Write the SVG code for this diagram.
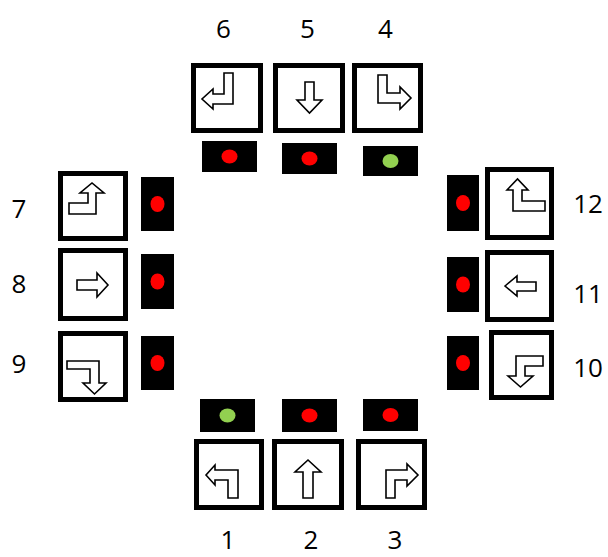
<svg xmlns="http://www.w3.org/2000/svg" width="608" height="557" viewBox="0 0 608 557">
<style>
.box{fill:#fff;stroke:#000;stroke-width:5}
.arr{fill:#fff;stroke:#000;stroke-width:1.6;stroke-linejoin:miter}
.sig{fill:#000}
.red{fill:#ff0000}
.grn{fill:#92d050}
.lbl{font-family:"Open Sans","Liberation Sans",sans-serif;font-size:26px;fill:#000;text-anchor:middle}
</style>
<rect width="608" height="557" fill="#fff"/>
<g id="connectors"></g>
<g id="lane6"><rect class="box" x="193.5" y="65.5" width="67" height="65"/><polygon class="arr" points="224,73 233,73 233,104 213,104 213,109 202,99 213,89 213,94 224,94"/><rect class="sig" x="202" y="141" width="55" height="31"/><ellipse class="red" cx="229.5" cy="156.5" rx="8" ry="7"/><text class="lbl" x="223.5" y="38">6</text></g>
<g id="lane5"><rect class="box" x="275.5" y="65.5" width="67" height="65"/><polygon class="arr" points="305,82 314,82 314,100 322,100 309.5,113 297,100 305,100"/><rect class="sig" x="282" y="143" width="55" height="31"/><ellipse class="red" cx="309.5" cy="158.5" rx="8" ry="7"/><text class="lbl" x="307.5" y="38">5</text></g>
<g id="lane4"><rect class="box" x="354.5" y="65.5" width="66" height="65"/><polygon class="arr" points="378,75 387,75 387,93 400,93 400,87 411,98 400,109 400,103 378,103"/><rect class="sig" x="363" y="146" width="55" height="30"/><ellipse class="grn" cx="390.5" cy="161" rx="8" ry="7"/><text class="lbl" x="385.5" y="38">4</text></g>
<g id="lane7"><rect class="box" x="60.5" y="173.5" width="65" height="65"/><polygon class="arr" points="69,203 88,203 88,193 80,193 92,183 104,193 96,193 96,214 69,214"/><rect class="sig" x="141" y="177" width="33" height="54"/><ellipse class="red" cx="157.5" cy="204" rx="7" ry="8"/><text class="lbl" x="19" y="218">7</text></g>
<g id="lane8"><rect class="box" x="60.5" y="250.5" width="65" height="68"/><polygon class="arr" points="77,280 97,280 97,273 108,285 97,297 97,290 77,290"/><rect class="sig" x="141" y="254" width="33" height="55"/><ellipse class="red" cx="157.5" cy="281.5" rx="7" ry="8"/><text class="lbl" x="19" y="293">8</text></g>
<g id="lane9"><rect class="box" x="60.5" y="333.5" width="65" height="66"/><polygon class="arr" points="67,361 99,361 99,383 106,383 94.5,394 83,383 90,383 90,369 67,369"/><rect class="sig" x="141" y="336" width="33" height="54"/><ellipse class="red" cx="157.5" cy="363" rx="7" ry="8"/><text class="lbl" x="19" y="373">9</text></g>
<g id="lane12"><rect class="box" x="487.5" y="169.5" width="64" height="68"/><polygon class="arr" points="513,190 507,190 517.5,179 528,190 522,190 522,201 545,201 545,211 513,211"/><rect class="sig" x="447" y="175" width="32" height="56"/><ellipse class="red" cx="463" cy="203" rx="7" ry="8"/><text class="lbl" x="588" y="213">12</text></g>
<g id="lane11"><rect class="box" x="487.5" y="252.5" width="64" height="67"/><polygon class="arr" points="505,286 517,276 517,282 536,282 536,291 517,291 517,296"/><rect class="sig" x="447" y="257" width="32" height="55"/><ellipse class="red" cx="463" cy="284.5" rx="7" ry="8"/><text class="lbl" x="588" y="303">11</text></g>
<g id="lane10"><rect class="box" x="491.5" y="332.5" width="60" height="65"/><polygon class="arr" points="516,356 543,356 543,366 525,366 525,376 533,376 520.5,387 508,376 516,376"/><rect class="sig" x="447" y="336" width="32" height="54"/><ellipse class="red" cx="463" cy="363" rx="7" ry="8"/><text class="lbl" x="588" y="377">10</text></g>
<g id="lane1"><rect class="box" x="196.5" y="441.5" width="65" height="66"/><polygon class="arr" points="206,475 215,465 215,470 238,470 238,498 228,498 228,480 215,480 215,485"/><rect class="sig" x="200" y="399" width="55" height="33"/><ellipse class="grn" cx="227.5" cy="415.5" rx="8" ry="7"/><text class="lbl" x="228" y="549">1</text></g>
<g id="lane2"><rect class="box" x="274.5" y="441.5" width="67" height="66"/><polygon class="arr" points="308,460 321,472 313,472 313,498 303,498 303,472 295,472"/><rect class="sig" x="282" y="399" width="55" height="33"/><ellipse class="red" cx="309.5" cy="415.5" rx="8" ry="7"/><text class="lbl" x="311" y="549">2</text></g>
<g id="lane3"><rect class="box" x="358.5" y="441.5" width="66" height="66"/><polygon class="arr" points="386,498 386,470 407,470 407,464 418,475 407,486 407,480 395,480 395,498"/><rect class="sig" x="363" y="399" width="55" height="32"/><ellipse class="red" cx="390.5" cy="415" rx="8" ry="7"/><text class="lbl" x="395" y="549">3</text></g>
</svg>
